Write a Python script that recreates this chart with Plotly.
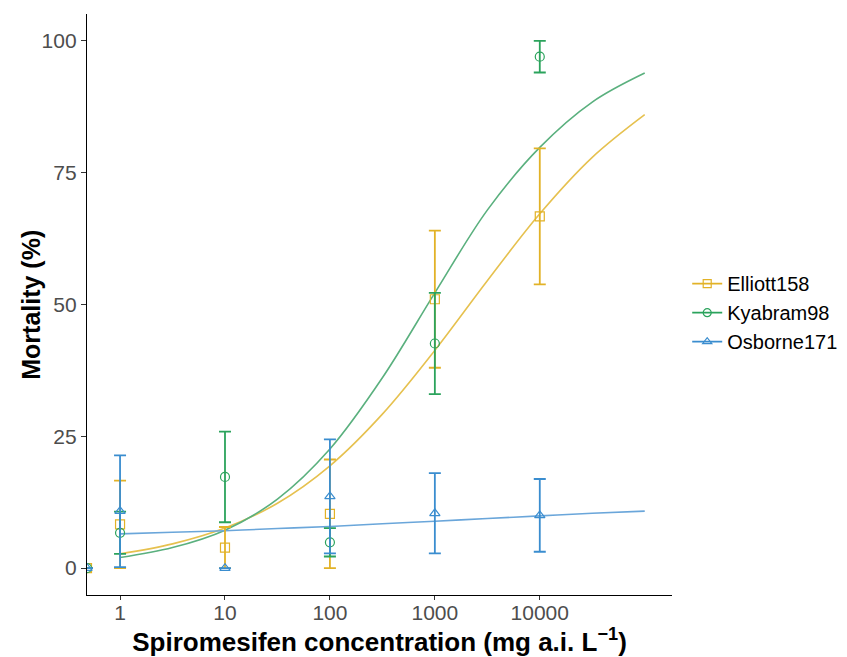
import plotly.graph_objects as go

# ---- data ----
doses = [0, 1, 10, 100, 1000, 10000]

elliott_mean = [0, 8.3, 3.9, 10.3, 51.0, 66.7]
elliott_err = [0, 8.3, 3.9, 10.3, 13.0, 12.9]
kyabram_mean = [0, 6.7, 17.3, 4.9, 42.6, 97.0]
kyabram_err = [0, 4.0, 8.6, 2.7, 9.6, 3.0]
osborne_mean = [0, 10.8, 0, 13.6, 10.4, 10.0]
osborne_err = [0, 10.6, 0, 10.8, 7.6, 6.9]

curve_x = [1, 3.162, 10, 31.62, 100, 316.2, 1000, 3162, 10000, 31623, 100000]
elliott_curve = [2.7, 4.6, 7.6, 12.3, 19.4, 29.2, 41.3, 54.5, 67.2, 77.9, 86.0]
kyabram_curve = [2.0, 3.9, 7.2, 13.1, 22.6, 36.1, 52.2, 67.9, 79.8, 88.4, 93.9]
osborne_curve = [6.5, 6.8, 7.1, 7.5, 7.9, 8.4, 8.9, 9.4, 9.9, 10.4, 10.8]

names = ["Elliott158", "Kyabram98", "Osborne171"]
tick_vals = [1, 10, 100, 1000, 10000]
tick_text = ["1", "10", "100", "1000", "10000"]

x_range = [-0.315, 5.26]
y_range = [-5.1, 105.1]

colors = ["#E2B227", "#2BA35C", "#3A8DCF"]
curve_colors = ["#E6C14F", "#5AB07E", "#6AA6DA"]
symbols = ["square-open", "circle-open", "triangle-up-open"]

# control (dose 0) drawn at the left edge of the log axis
disp_x = [10 ** x_range[0] if d == 0 else d for d in doses]

fig = go.Figure()
means = [elliott_mean, kyabram_mean, osborne_mean]
errs = [elliott_err, kyabram_err, osborne_err]
curves = [elliott_curve, kyabram_curve, osborne_curve]

for i in range(3):
    fig.add_trace(go.Scatter(
        x=curve_x, y=curves[i], mode="lines",
        line=dict(color=curve_colors[i], width=1.6, shape="spline", smoothing=1.0),
        showlegend=False, hoverinfo="skip"))
for i in range(3):
    fig.add_trace(go.Scatter(
        x=disp_x, y=means[i], mode="markers",
        marker=dict(symbol=symbols[i], size=9, color=colors[i],
                    line=dict(width=1.2, color=colors[i])),
        error_y=dict(type="data", array=errs[i], visible=True,
                     color=colors[i], thickness=1.8, width=6),
        showlegend=False))
for i in range(3):
    fig.add_trace(go.Scatter(
        x=[None], y=[None], mode="lines+markers", name=names[i],
        line=dict(color=colors[i], width=1.6),
        marker=dict(symbol=symbols[i], size=8, color=colors[i],
                    line=dict(width=1.2, color=colors[i]))))

fig.update_layout(
    width=839, height=649,
    margin=dict(l=79, r=175, t=6, b=62, autoexpand=False),
    plot_bgcolor="white", paper_bgcolor="white",
    font=dict(family="Liberation Sans, Arial, sans-serif", color="#000000"),
    legend=dict(x=1.026, y=0.486, xanchor="left", yanchor="middle",
                font=dict(size=20, color="#000000"), tracegroupgap=0,
                itemwidth=30, bgcolor="rgba(0,0,0,0)"),
    annotations=[dict(text="<b>Mortality (%)</b>", textangle=-90,
                      xref="paper", yref="paper", x=-0.097, y=0.5,
                      xanchor="center", yanchor="middle", showarrow=False,
                      font=dict(size=25, color="#000000"))],
)
fig.update_xaxes(
    type="log", range=x_range, tickvals=tick_vals, ticktext=tick_text,
    showgrid=False, zeroline=False, showline=True, linecolor="#000000",
    linewidth=1.3, ticks="outside", ticklen=4, tickcolor="#333333",
    ticklabelstandoff=-5,
    tickfont=dict(size=21, color="#4D4D4D"),
    title=dict(text="<b>Spiromesifen concentration (mg a.i. L<sup>−1</sup>)</b>",
               font=dict(size=26, color="#000000"), standoff=2),
)
fig.update_yaxes(
    range=y_range, tickvals=[0, 25, 50, 75, 100],
    showgrid=False, zeroline=False, showline=True, linecolor="#000000",
    linewidth=1.3, ticks="outside", ticklen=5, tickcolor="#333333",
    tickfont=dict(size=21, color="#4D4D4D"),
)

fig.write_html("out.html")
